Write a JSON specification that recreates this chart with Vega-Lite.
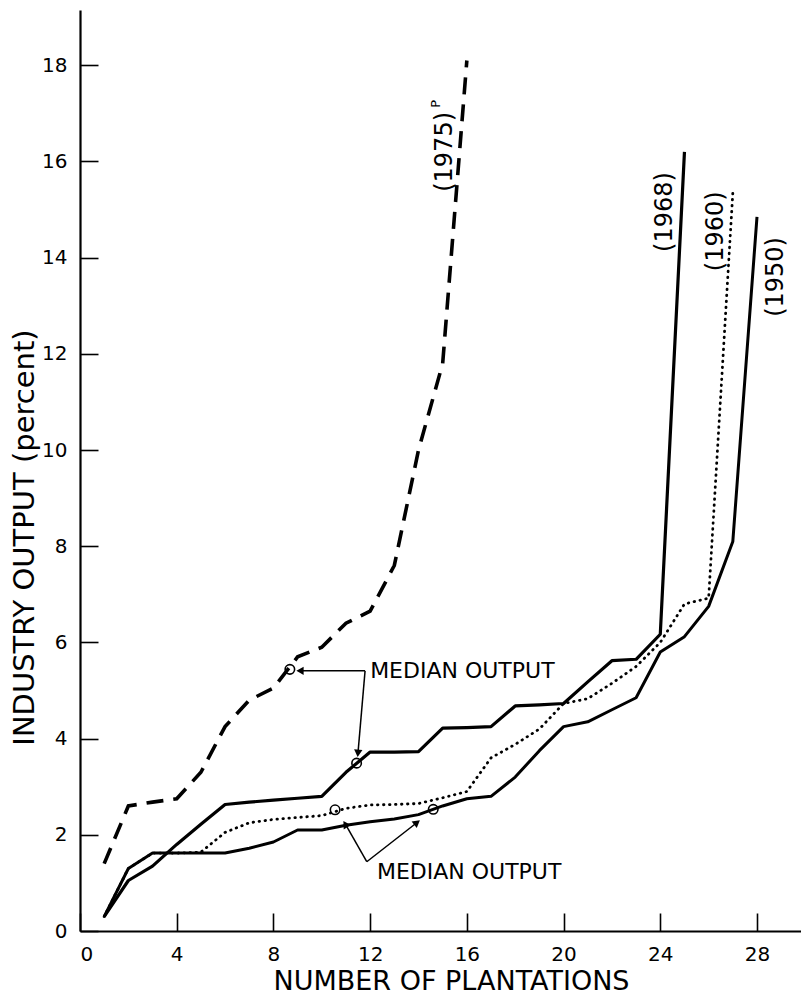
{
  "$schema": "https://vega.github.io/schema/vega-lite/v6.json",
  "width": 721,
  "height": 921,
  "autosize": {"type": "none"},
  "padding": {"left": 80, "top": 10, "right": 0, "bottom": 65},
  "background": "white",
  "config": {
    "view": {"stroke": null},
    "font": "DejaVu Sans",
    "axis": {
      "grid": false,
      "domainColor": "black",
      "domainWidth": 2.2,
      "tickColor": "black",
      "tickWidth": 1.6,
      "tickSize": -18,
      "labelColor": "black",
      "labelFont": "DejaVu Sans",
      "labelFontSize": 20,
      "titleColor": "black",
      "titleFont": "DejaVu Sans",
      "titleFontWeight": "normal"
    }
  },
  "datasets": {
    "curves": [
      {"series": "1975", "plantations": 1, "output": 1.4},
      {"series": "1975", "plantations": 2, "output": 2.6},
      {"series": "1975", "plantations": 3, "output": 2.68},
      {"series": "1975", "plantations": 4, "output": 2.75},
      {"series": "1975", "plantations": 5, "output": 3.3},
      {"series": "1975", "plantations": 6, "output": 4.25},
      {"series": "1975", "plantations": 7, "output": 4.8},
      {"series": "1975", "plantations": 8, "output": 5.05},
      {"series": "1975", "plantations": 9, "output": 5.7},
      {"series": "1975", "plantations": 10, "output": 5.9},
      {"series": "1975", "plantations": 11, "output": 6.4},
      {"series": "1975", "plantations": 12, "output": 6.65},
      {"series": "1975", "plantations": 13, "output": 7.6},
      {"series": "1975", "plantations": 14, "output": 10.0},
      {"series": "1975", "plantations": 15, "output": 11.8},
      {"series": "1975", "plantations": 16, "output": 18.1},
      {"series": "1968", "plantations": 1, "output": 0.3},
      {"series": "1968", "plantations": 2, "output": 1.05},
      {"series": "1968", "plantations": 3, "output": 1.35},
      {"series": "1968", "plantations": 4, "output": 1.8},
      {"series": "1968", "plantations": 5, "output": 2.22},
      {"series": "1968", "plantations": 6, "output": 2.63},
      {"series": "1968", "plantations": 7, "output": 2.68},
      {"series": "1968", "plantations": 8, "output": 2.72},
      {"series": "1968", "plantations": 9, "output": 2.76},
      {"series": "1968", "plantations": 10, "output": 2.8},
      {"series": "1968", "plantations": 11, "output": 3.3},
      {"series": "1968", "plantations": 12, "output": 3.72},
      {"series": "1968", "plantations": 13, "output": 3.72},
      {"series": "1968", "plantations": 14, "output": 3.73},
      {"series": "1968", "plantations": 15, "output": 4.22},
      {"series": "1968", "plantations": 16, "output": 4.23},
      {"series": "1968", "plantations": 17, "output": 4.25},
      {"series": "1968", "plantations": 18, "output": 4.68},
      {"series": "1968", "plantations": 19, "output": 4.7},
      {"series": "1968", "plantations": 20, "output": 4.73},
      {"series": "1968", "plantations": 21, "output": 5.18},
      {"series": "1968", "plantations": 22, "output": 5.62},
      {"series": "1968", "plantations": 23, "output": 5.65},
      {"series": "1968", "plantations": 24, "output": 6.17},
      {"series": "1968", "plantations": 25, "output": 16.2},
      {"series": "1960", "plantations": 1, "output": 0.3},
      {"series": "1960", "plantations": 2, "output": 1.3},
      {"series": "1960", "plantations": 3, "output": 1.62},
      {"series": "1960", "plantations": 4, "output": 1.62},
      {"series": "1960", "plantations": 5, "output": 1.64},
      {"series": "1960", "plantations": 6, "output": 2.05},
      {"series": "1960", "plantations": 7, "output": 2.25},
      {"series": "1960", "plantations": 8, "output": 2.32},
      {"series": "1960", "plantations": 9, "output": 2.36},
      {"series": "1960", "plantations": 10, "output": 2.4},
      {"series": "1960", "plantations": 11, "output": 2.55},
      {"series": "1960", "plantations": 12, "output": 2.62},
      {"series": "1960", "plantations": 13, "output": 2.63},
      {"series": "1960", "plantations": 14, "output": 2.65},
      {"series": "1960", "plantations": 15, "output": 2.77},
      {"series": "1960", "plantations": 16, "output": 2.9},
      {"series": "1960", "plantations": 17, "output": 3.6},
      {"series": "1960", "plantations": 18, "output": 3.88},
      {"series": "1960", "plantations": 19, "output": 4.2},
      {"series": "1960", "plantations": 20, "output": 4.73},
      {"series": "1960", "plantations": 21, "output": 4.83},
      {"series": "1960", "plantations": 22, "output": 5.15},
      {"series": "1960", "plantations": 23, "output": 5.5},
      {"series": "1960", "plantations": 24, "output": 6.0},
      {"series": "1960", "plantations": 25, "output": 6.8},
      {"series": "1960", "plantations": 26, "output": 6.92},
      {"series": "1960", "plantations": 27, "output": 15.35},
      {"series": "1950", "plantations": 1, "output": 0.3},
      {"series": "1950", "plantations": 2, "output": 1.3},
      {"series": "1950", "plantations": 3, "output": 1.62},
      {"series": "1950", "plantations": 4, "output": 1.62},
      {"series": "1950", "plantations": 5, "output": 1.62},
      {"series": "1950", "plantations": 6, "output": 1.62},
      {"series": "1950", "plantations": 7, "output": 1.72},
      {"series": "1950", "plantations": 8, "output": 1.85},
      {"series": "1950", "plantations": 9, "output": 2.1},
      {"series": "1950", "plantations": 10, "output": 2.1},
      {"series": "1950", "plantations": 11, "output": 2.2},
      {"series": "1950", "plantations": 12, "output": 2.27},
      {"series": "1950", "plantations": 13, "output": 2.33},
      {"series": "1950", "plantations": 14, "output": 2.42},
      {"series": "1950", "plantations": 15, "output": 2.6},
      {"series": "1950", "plantations": 16, "output": 2.75},
      {"series": "1950", "plantations": 17, "output": 2.8},
      {"series": "1950", "plantations": 18, "output": 3.2},
      {"series": "1950", "plantations": 19, "output": 3.75},
      {"series": "1950", "plantations": 20, "output": 4.25},
      {"series": "1950", "plantations": 21, "output": 4.35},
      {"series": "1950", "plantations": 22, "output": 4.6},
      {"series": "1950", "plantations": 23, "output": 4.85},
      {"series": "1950", "plantations": 24, "output": 5.8},
      {"series": "1950", "plantations": 25, "output": 6.12},
      {"series": "1950", "plantations": 26, "output": 6.75},
      {"series": "1950", "plantations": 27, "output": 8.1},
      {"series": "1950", "plantations": 28, "output": 14.85}
    ],
    "years": [
      {"text": "(1975)", "plantations": 15.1, "output": 16.2},
      {"text": "(1968)", "plantations": 24.2, "output": 14.95},
      {"text": "(1960)", "plantations": 26.3, "output": 14.55},
      {"text": "(1950)", "plantations": 28.8, "output": 13.6}
    ],
    "sup": [
      {"text": "P", "plantations": 14.72, "output": 17.2}
    ],
    "medianText": [
      {"text": "MEDIAN OUTPUT", "plantations": 12.0, "output": 5.4},
      {"text": "MEDIAN OUTPUT", "plantations": 12.28, "output": 1.22}
    ],
    "arrows": [
      {"plantations": 11.79, "output": 5.41, "p2": 9.15, "o2": 5.41},
      {"plantations": 11.79, "output": 5.41, "p2": 11.5, "o2": 3.72},
      {"plantations": 11.86, "output": 1.44, "p2": 11.0, "o2": 2.2},
      {"plantations": 11.86, "output": 1.44, "p2": 13.9, "o2": 2.24}
    ],
    "heads": [
      {"dir": "left", "plantations": 9.15, "output": 5.41},
      {"dir": "down", "plantations": 11.5, "output": 3.72},
      {"dir": "upleft", "plantations": 11.0, "output": 2.2},
      {"dir": "upright", "plantations": 13.9, "output": 2.24}
    ],
    "medians": [
      {"series": "1975", "plantations": 8.68, "output": 5.44},
      {"series": "1968", "plantations": 11.44, "output": 3.49},
      {"series": "1960", "plantations": 10.55, "output": 2.52},
      {"series": "1950", "plantations": 14.61, "output": 2.53}
    ]
  },
  "layer": [
    {
      "data": {"name": "curves"},
      "transform": [{"filter": "datum.series === '1950'"}],
      "mark": {"type": "line", "color": "black", "strokeWidth": 3, "strokeJoin": "round"},
      "encoding": {
        "x": {"field": "plantations", "type": "quantitative",
              "scale": {"domain": [0, 29.82], "nice": false, "zero": false},
              "axis": {"values": [0, 4, 8, 12, 16, 20, 24, 28], "labelPadding": 31,
                       "title": "NUMBER OF PLANTATIONS", "titleFontSize": 27,
                       "titleX": 371, "titleY": 50, "titleBaseline": "middle"}},
        "y": {"field": "output", "type": "quantitative",
              "scale": {"domain": [0, 19.15], "nice": false, "zero": false},
              "axis": {"values": [0, 2, 4, 6, 8, 10, 12, 14, 16, 18], "labelPadding": 31,
                       "title": "INDUSTRY OUTPUT (percent)", "titleFontSize": 29,
                       "titleAngle": 270, "titleX": -56, "titleY": 527,
                       "titleAlign": "center", "titleBaseline": "middle"}}
      }
    },
    {
      "data": {"name": "curves"},
      "transform": [{"filter": "datum.series === '1968'"}],
      "mark": {"type": "line", "color": "black", "strokeWidth": 3.2, "strokeJoin": "round"},
      "encoding": {
        "x": {"field": "plantations", "type": "quantitative"},
        "y": {"field": "output", "type": "quantitative"}
      }
    },
    {
      "data": {"name": "curves"},
      "transform": [{"filter": "datum.series === '1960'"}],
      "mark": {"type": "line", "color": "black", "strokeWidth": 2.8, "strokeCap": "round", "strokeDash": [0.5, 5.5]},
      "encoding": {
        "x": {"field": "plantations", "type": "quantitative"},
        "y": {"field": "output", "type": "quantitative"}
      }
    },
    {
      "data": {"name": "curves"},
      "transform": [{"filter": "datum.series === '1975'"}],
      "mark": {"type": "line", "color": "black", "strokeWidth": 3.6, "strokeDash": [17, 10]},
      "encoding": {
        "x": {"field": "plantations", "type": "quantitative"},
        "y": {"field": "output", "type": "quantitative"}
      }
    },
    {
      "data": {"name": "medians"},
      "mark": {"type": "point", "shape": "circle", "filled": false, "color": "black", "strokeWidth": 1.6, "size": 90, "opacity": 1},
      "encoding": {
        "x": {"field": "plantations", "type": "quantitative"},
        "y": {"field": "output", "type": "quantitative"}
      }
    },
    {
      "data": {"name": "arrows"},
      "mark": {"type": "rule", "color": "black", "strokeWidth": 1.5},
      "encoding": {
        "x": {"field": "plantations", "type": "quantitative"},
        "y": {"field": "output", "type": "quantitative"},
        "x2": {"field": "p2"},
        "y2": {"field": "o2"}
      }
    },
    {
      "data": {"name": "heads"},
      "transform": [{"filter": "datum.dir === 'left'"}],
      "mark": {"type": "point", "shape": "triangle", "angle": 270, "filled": true, "color": "black", "size": 70, "opacity": 1},
      "encoding": {
        "x": {"field": "plantations", "type": "quantitative"},
        "y": {"field": "output", "type": "quantitative"}
      }
    },
    {
      "data": {"name": "heads"},
      "transform": [{"filter": "datum.dir === 'down'"}],
      "mark": {"type": "point", "shape": "triangle", "angle": 185, "filled": true, "color": "black", "size": 70, "opacity": 1},
      "encoding": {
        "x": {"field": "plantations", "type": "quantitative"},
        "y": {"field": "output", "type": "quantitative"}
      }
    },
    {
      "data": {"name": "heads"},
      "transform": [{"filter": "datum.dir === 'upleft'"}],
      "mark": {"type": "point", "shape": "triangle", "angle": 328, "filled": true, "color": "black", "size": 70, "opacity": 1},
      "encoding": {
        "x": {"field": "plantations", "type": "quantitative"},
        "y": {"field": "output", "type": "quantitative"}
      }
    },
    {
      "data": {"name": "heads"},
      "transform": [{"filter": "datum.dir === 'upright'"}],
      "mark": {"type": "point", "shape": "triangle", "angle": 52, "filled": true, "color": "black", "size": 70, "opacity": 1},
      "encoding": {
        "x": {"field": "plantations", "type": "quantitative"},
        "y": {"field": "output", "type": "quantitative"}
      }
    },
    {
      "data": {"name": "years"},
      "mark": {"type": "text", "angle": 270, "align": "center", "baseline": "middle", "fontSize": 24, "color": "black", "font": "DejaVu Sans"},
      "encoding": {
        "x": {"field": "plantations", "type": "quantitative"},
        "y": {"field": "output", "type": "quantitative"},
        "text": {"field": "text"}
      }
    },
    {
      "data": {"name": "sup"},
      "mark": {"type": "text", "angle": 270, "align": "center", "baseline": "middle", "fontSize": 13, "color": "black", "font": "DejaVu Sans"},
      "encoding": {
        "x": {"field": "plantations", "type": "quantitative"},
        "y": {"field": "output", "type": "quantitative"},
        "text": {"field": "text"}
      }
    },
    {
      "data": {"name": "medianText"},
      "mark": {"type": "text", "align": "left", "baseline": "middle", "fontSize": 22, "color": "black", "font": "DejaVu Sans"},
      "encoding": {
        "x": {"field": "plantations", "type": "quantitative"},
        "y": {"field": "output", "type": "quantitative"},
        "text": {"field": "text"}
      }
    }
  ]
}
